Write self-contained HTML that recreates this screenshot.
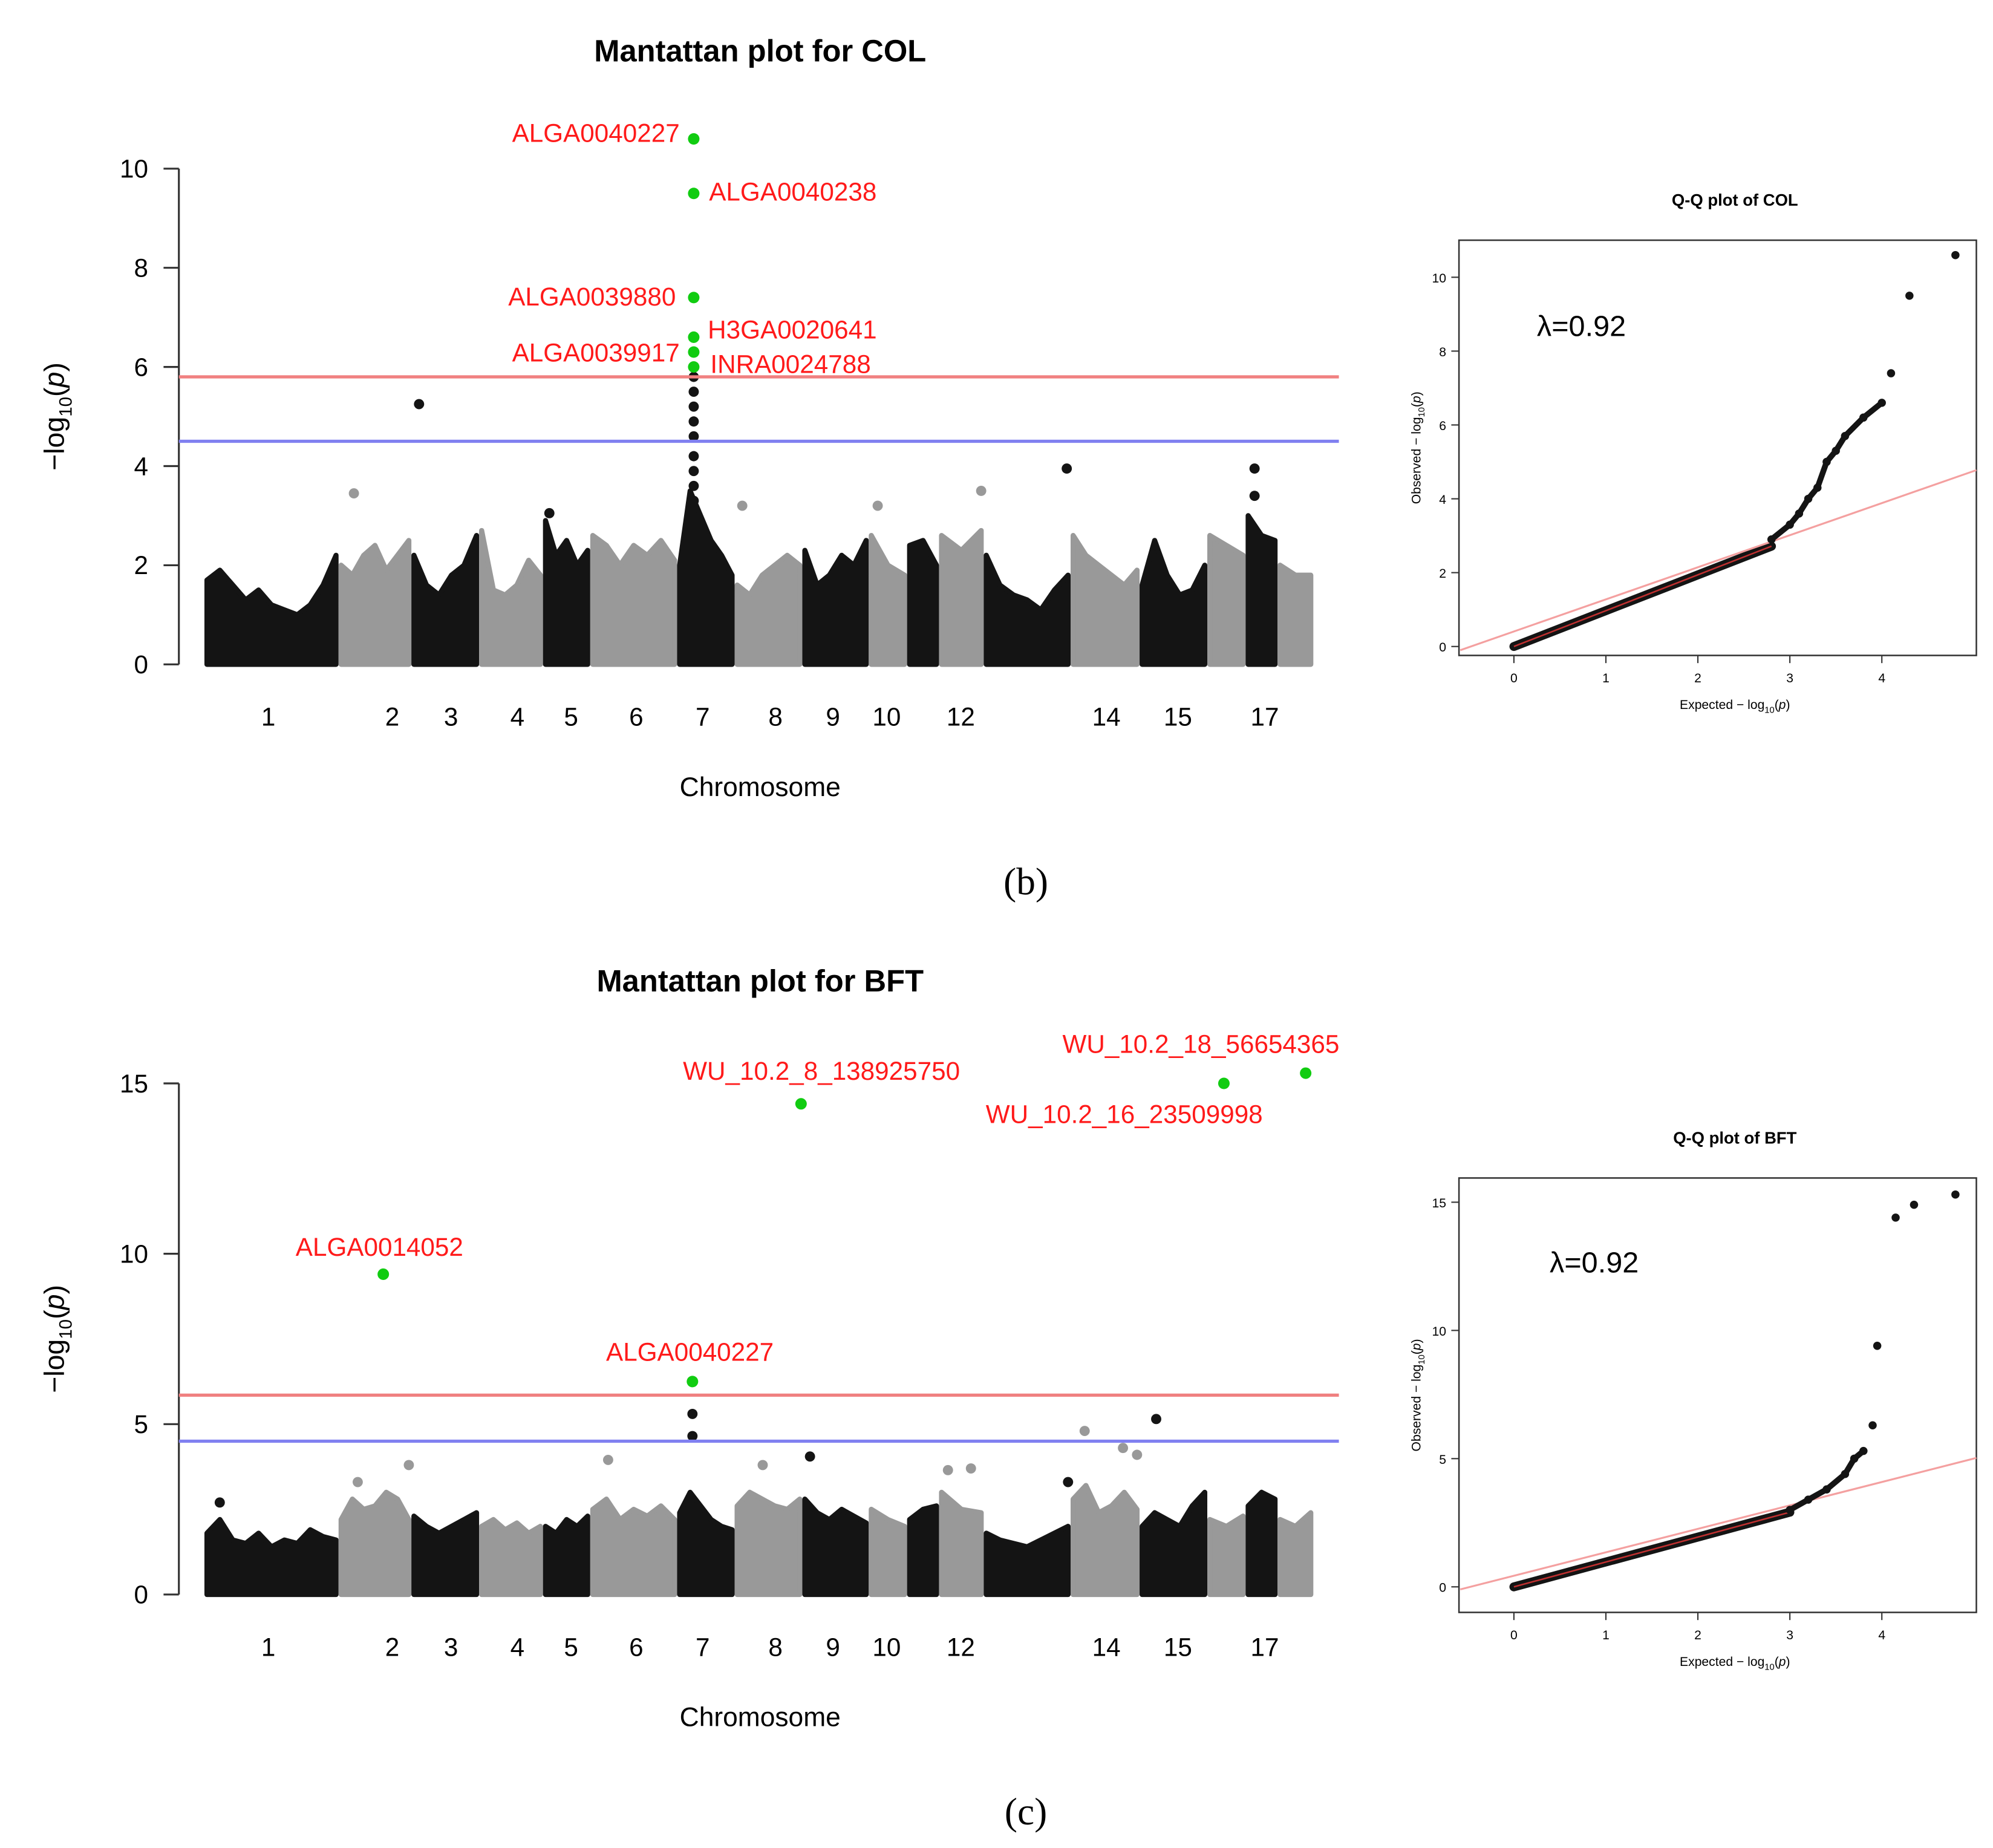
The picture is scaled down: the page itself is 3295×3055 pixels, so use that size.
<!DOCTYPE html>
<html><head><meta charset="utf-8">
<style>
html,body{margin:0;padding:0;background:#fff;}
svg{display:block;}
text{font-family:"Liberation Sans",Arial,sans-serif;}
</style></head>
<body>
<svg id="fig" width="3295" height="3055" viewBox="0 0 1560 1446.4" xmlns="http://www.w3.org/2000/svg">
<text x="803" y="700" font-size="30" text-anchor="middle" style="font-family:'Liberation Serif',serif">(b)</text>
<text x="803" y="1428" font-size="30" text-anchor="middle" style="font-family:'Liberation Serif',serif">(c)</text>
</svg>
<script>
// ---------- data ----------
const chrBounds = [0,105,162,215,265,302,370,415,468,520,550,575,610,678,732,785,815,840,868];
const chrTickLabels = ["1","2","3","4","5","6","7","8","9","10","12","14","15","17"];
const chrTickPos = [50,147,193,245,287,338,390,447,492,534,592,706,762,830];

const colEnv = [
 [1.7,1.9,1.6,1.3,1.5,1.2,1.1,1.0,1.2,1.6,2.2],
 [2.0,1.8,2.2,2.4,1.9,2.2,2.5],
 [2.2,1.6,1.4,1.8,2.0,2.6],
 [2.7,1.5,1.4,1.6,2.1,1.8],
 [2.9,2.2,2.5,2.0,2.3],
 [2.6,2.4,2.0,2.4,2.2,2.5,2.1],
 [2.0,3.5,3.0,2.5,2.2,1.8],
 [1.6,1.4,1.8,2.0,2.2,2.0],
 [2.3,1.6,1.8,2.2,2.0,2.5],
 [2.6,2.0,1.8],
 [2.4,2.5,2.0],
 [2.6,2.3,2.7],
 [2.2,1.6,1.4,1.3,1.1,1.5,1.8],
 [2.6,2.2,2.0,1.8,1.6,1.9],
 [1.6,2.5,1.8,1.4,1.5,2.0],
 [2.6,2.4,2.2],
 [3.0,2.6,2.5],
 [2.0,1.8,1.8]
];
const colPtPos = [168,383,383,383,383,383,383,383,383,383,675,822,822,117,270,608,527,421];
const colPtVal = [5.25,5.8,5.5,5.2,4.9,4.6,4.2,3.9,3.6,3.3,3.95,3.95,3.4,3.45,3.05,3.5,3.2,3.2];
const colSigPos = [383,383,383,383,383,383];
const colSigVal = [10.6,9.5,7.4,6.6,6.3,6.0];
const colSigLabels = ["ALGA0040227","ALGA0040238","ALGA0039880","H3GA0020641","ALGA0039917","INRA0024788"];

const bftEnv = [
 [1.8,2.2,1.6,1.5,1.8,1.4,1.6,1.5,1.9,1.7,1.6],
 [2.2,2.8,2.5,2.6,3.0,2.8,2.2],
 [2.3,2.0,1.8,2.0,2.2,2.4],
 [2.0,2.2,1.9,2.1,1.8,2.0],
 [2.0,1.8,2.2,2.0,2.3],
 [2.5,2.8,2.2,2.5,2.3,2.6,2.2],
 [2.4,3.0,2.6,2.2,2.0,1.9],
 [2.6,3.0,2.8,2.6,2.5,2.8],
 [2.8,2.4,2.2,2.5,2.3,2.1],
 [2.5,2.2,2.0],
 [2.2,2.5,2.6],
 [3.0,2.5,2.4],
 [1.8,1.6,1.5,1.4,1.6,1.8,2.0],
 [2.8,3.2,2.4,2.6,3.0,2.5],
 [2.0,2.4,2.2,2.0,2.6,3.0],
 [2.2,2.0,2.3],
 [2.6,3.0,2.8],
 [2.2,2.0,2.4]
];
const bftPtPos = [382,382,745,689,719,730,474,316,160,437,676,582,600,120,12];
const bftPtVal = [5.3,4.65,5.15,4.8,4.3,4.1,4.05,3.95,3.8,3.8,3.3,3.65,3.7,3.3,2.7];
const bftSigPos = [140,467,798,862,382];
const bftSigVal = [9.4,14.4,15.0,15.3,6.25];
const bftSigLabels = ["ALGA0014052","WU_10.2_8_138925750","WU_10.2_16_23509998","WU_10.2_18_56654365","ALGA0040227"];

const qqColExp = [2.8,3.0,3.1,3.2,3.3,3.4,3.5,3.6,3.8,4.0,4.1,4.3,4.8];
const qqColObs = [2.9,3.3,3.6,4.0,4.3,5.0,5.3,5.7,6.2,6.6,7.4,9.5,10.6];
const qqBftExp = [3.0,3.2,3.4,3.6,3.7,3.8,3.9,3.95,4.15,4.35,4.8];
const qqBftObs = [3.0,3.4,3.8,4.4,5.0,5.3,6.3,9.4,14.4,14.9,15.3];

// ---------- drawing ----------
const NS="http://www.w3.org/2000/svg";
const svg=document.getElementById('fig');
function mk(tag,attrs,parent){const e=document.createElementNS(NS,tag);for(const k in attrs)e.setAttribute(k,attrs[k]);(parent||svg).appendChild(e);return e;}
function txt(x,y,s,attrs,parent){const t=mk('text',Object.assign({x:x,y:y},attrs),parent);t.textContent=s;return t;}

function manhattan(o){
  const g=mk('g',{});
  
  
  const xS=p=>160+p, yS=v=>o.y0-v*o.k;
  const t=txt(595,o.titleY,o.title,{'font-size':24,'font-weight':'bold','text-anchor':'middle'},g);
  
  
  const ax=mk('line',{x1:140,x2:140,y1:yS(o.ymax),y2:yS(0),stroke:'#333','stroke-width':1.5},g);
  
  
  o.yticks.forEach(v=>{
    mk('line',{x1:128,x2:140,y1:yS(v),y2:yS(v),stroke:'#333','stroke-width':1.5},g);
    const tl=txt(116,yS(v)+7,String(v),{'font-size':20,'text-anchor':'end'},g);
    
    
  });
  const yl=txt(0,0,'',{'font-size':22,'text-anchor':'middle',transform:`translate(50 ${(yS(o.ymax)+yS(0))/2}) rotate(-90)`},g);
  yl.innerHTML='−log<tspan font-size="14" dy="6">10</tspan><tspan dy="-6">(</tspan><tspan font-style="italic">p</tspan>)';
  
  
  o.env.forEach((vals,i)=>{
    const a=chrBounds[i], b=chrBounds[i+1], n=vals.length;
    const col=i%2===0?'#141414':'#999999';
    let pts=[[xS(a)+2,yS(0)]];
    vals.forEach((v,j)=>{const x=xS(a+2+(b-a-4)*(n===1?0.5:j/(n-1)));pts.push([x,yS(v)]);});
    pts.push([xS(b)-2,yS(0)]);
    const p=mk('polygon',{points:pts.map(q=>q.join(',')).join(' '),fill:col,stroke:col,'stroke-width':4,'stroke-linejoin':'round'},g);
    
    
  });
  o.ptPos.forEach((p,i)=>{
    let ci=0;while(ci<chrBounds.length-2&&p>=chrBounds[ci+1])ci++;
    const c=mk('circle',{cx:xS(p),cy:yS(o.ptVal[i]),r:4,fill:ci%2===0?'#141414':'#999999'},g);
    
    
  });
  const rl=mk('line',{x1:140,x2:1048,y1:yS(o.red),y2:yS(o.red),stroke:'#f08080','stroke-width':2.5},g);
  
  
  const bl=mk('line',{x1:140,x2:1048,y1:yS(o.blue),y2:yS(o.blue),stroke:'#8080f0','stroke-width':2.5},g);
  
  
  o.sigPos.forEach((p,i)=>{
    const c=mk('circle',{cx:xS(p),cy:yS(o.sigVal[i]),r:4.5,fill:'#11cc11'},g);
    
    
    const L=o.labelPos[i];
    const tl=txt(L[0],L[1],o.sigLabels[i],{'font-size':20,fill:'#ff1a1a','text-anchor':L[2]},g);
    
    
  });
  chrTickPos.forEach((p,i)=>{
    const tl=txt(xS(p),o.y0+48,chrTickLabels[i],{'font-size':20,'text-anchor':'middle'},g);
    
    
  });
  const xt=txt(595,o.y0+103,'Chromosome',{'font-size':21,'text-anchor':'middle'},g);
  
  
}

manhattan({name:'manhattan-col',title:'Mantattan plot for COL',titleY:48,y0:520,k:38.8,ymax:10,yticks:[0,2,4,6,8,10],
  red:5.8,blue:4.5,env:colEnv,ptPos:colPtPos,ptVal:colPtVal,sigPos:colSigPos,sigVal:colSigVal,sigLabels:colSigLabels,
  labelPos:[[532,111,'end'],[555,157,'start'],[529,239,'end'],[554,265,'start'],[532,283,'end'],[556,292,'start']]});
manhattan({name:'manhattan-bft',title:'Mantattan plot for BFT',titleY:776,y0:1248,k:26.67,ymax:15,yticks:[0,5,10,15],
  red:5.85,blue:4.5,env:bftEnv,ptPos:bftPtPos,ptVal:bftPtVal,sigPos:bftSigPos,sigVal:bftSigVal,sigLabels:bftSigLabels,
  labelPos:[[297,983,'middle'],[643,845,'middle'],[880,879,'middle'],[940,824,'middle'],[540,1065,'middle']]});

function qq(o){
  const g=mk('g',{});
  
  
  const xS=v=>1185+v*72, yS=v=>o.y0-v*o.k;
  const t=txt(1358,o.box[1]-27,o.title,{'font-size':13,'font-weight':'bold','text-anchor':'middle'},g);
  
  
  const b=mk('rect',{x:o.box[0],y:o.box[1],width:o.box[2]-o.box[0],height:o.box[3]-o.box[1],fill:'none',stroke:'#333','stroke-width':1.2},g);
  
  
  [0,1,2,3,4].forEach(v=>{
    mk('line',{x1:xS(v),x2:xS(v),y1:o.box[3],y2:o.box[3]+6,stroke:'#333'},g);
    const tl=txt(xS(v),o.box[3]+21,String(v),{'font-size':10,'text-anchor':'middle'},g);
    
    
  });
  o.yticks.forEach(v=>{
    mk('line',{x1:o.box[0]-6,x2:o.box[0],y1:yS(v),y2:yS(v),stroke:'#333'},g);
    const tl=txt(o.box[0]-10,yS(v)+4,String(v),{'font-size':10,'text-anchor':'end'},g);
    
    
  });
  const xl=txt(1358,o.box[3]+42,'',{'font-size':10,'text-anchor':'middle'},g);
  xl.innerHTML='Expected  − log<tspan font-size="7" dy="3">10</tspan><tspan dy="-3">(</tspan><tspan font-style="italic">p</tspan>)';
  
  
  const yl=txt(0,0,'',{'font-size':10,'text-anchor':'middle',transform:`translate(${o.box[0]-30} ${(o.box[1]+o.box[3])/2}) rotate(-90)`},g);
  yl.innerHTML='Observed  − log<tspan font-size="7" dy="3">10</tspan><tspan dy="-3">(</tspan><tspan font-style="italic">p</tspan>)';
  
  
  const lam=txt(o.lam[0],o.lam[1],'λ=0.92',{'font-size':23},g);
  
  
  const bulkEnd=o.exp[0];
  const bulk=mk('line',{x1:xS(0),y1:yS(0),x2:xS(bulkEnd),y2:yS(bulkEnd*0.97),stroke:'#141414','stroke-width':7,'stroke-linecap':'round'},g);
  
  
  const ec=(o.box[2]-1185)/72;
  const rl=mk('line',{x1:o.box[0]+1,y1:yS(-0.1),x2:o.box[2],y2:yS(ec*o.slope),stroke:'#f4a0a0','stroke-width':1.5},g);
  
  
  mk('line',{x1:xS(0),y1:yS(0),x2:xS(bulkEnd),y2:yS(bulkEnd*0.97),stroke:'#c03030','stroke-width':1.2},g);
  for(let i=0;i<o.exp.length;i++){
    const c=mk('circle',{cx:xS(o.exp[i]),cy:yS(o.obs[i]),r:3.2,fill:'#141414'},g);
    
    
    if(i<o.exp.length-1 && (o.obs[i+1]-o.obs[i])<0.8 && o.obs[i]<8){
      const s=mk('line',{x1:xS(o.exp[i]),y1:yS(o.obs[i]),x2:xS(o.exp[i+1]),y2:yS(o.obs[i+1]),stroke:'#141414','stroke-width':4.5},g);
      
      
    }
  }
}
qq({name:'qq-plot-col',title:'Q-Q plot of COL',box:[1142,188,1547,513],y0:506,k:28.9,yticks:[0,2,4,6,8,10],exp:qqColExp,obs:qqColObs,lam:[1203,263],slope:0.95});
qq({name:'qq-plot-bft',title:'Q-Q plot of BFT',box:[1142,922,1547,1262],y0:1242,k:20.07,yticks:[0,5,10,15],exp:qqBftExp,obs:qqBftObs,lam:[1213,996],slope:1.0});
</script>
</body></html>
